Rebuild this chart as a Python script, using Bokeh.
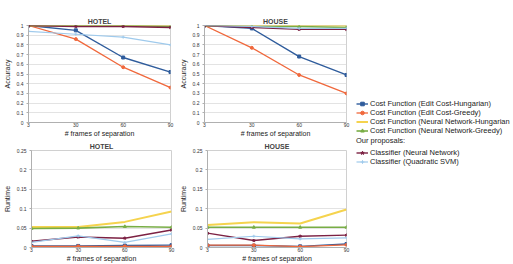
from bokeh.plotting import figure
from bokeh.models import Range1d, FixedTicker, Legend, LegendItem, ColumnDataSource
from bokeh.layouts import row, column
from bokeh.embed import file_html
from bokeh.resources import INLINE

# ---------------- data ----------------
frames = ["3", "30", "60", "90"]

series_names = [
    "Cost Function (Edit Cost-Hungarian)",
    "Cost Function (Edit Cost-Greedy)",
    "Cost Function (Neural Network-Hungarian",
    "Cost Function (Neural Network-Greedy)",
    "Classifier (Neural Network)",
    "Classifier (Quadratic SVM)",
]

# Accuracy - HOTEL
acc_hotel_edit_hung = [1.00, 0.95, 0.67, 0.52]
acc_hotel_edit_greedy = [1.00, 0.86, 0.57, 0.36]
acc_hotel_nn_hung = [1.00, 1.00, 1.00, 1.00]
acc_hotel_nn_greedy = [1.00, 1.00, 1.00, 0.99]
acc_hotel_cls_nn = [1.00, 0.99, 0.99, 0.98]
acc_hotel_cls_svm = [0.94, 0.91, 0.88, 0.80]

# Accuracy - HOUSE
acc_house_edit_hung = [1.00, 0.97, 0.68, 0.49]
acc_house_edit_greedy = [1.00, 0.77, 0.49, 0.30]
acc_house_nn_hung = [1.00, 1.00, 1.00, 1.00]
acc_house_nn_greedy = [1.00, 0.99, 0.99, 0.98]
acc_house_cls_nn = [1.00, 0.98, 0.96, 0.96]
acc_house_cls_svm = [1.00, 0.99, 0.97, 0.97]

# Runtime - HOTEL
rt_hotel_edit_hung = [0.004, 0.004, 0.005, 0.006]
rt_hotel_edit_greedy = [0.003, 0.003, 0.003, 0.003]
rt_hotel_nn_hung = [0.053, 0.053, 0.066, 0.093]
rt_hotel_nn_greedy = [0.049, 0.050, 0.054, 0.052]
rt_hotel_cls_nn = [0.016, 0.027, 0.024, 0.045]
rt_hotel_cls_svm = [0.013, 0.030, 0.013, 0.035]

# Runtime - HOUSE
rt_house_edit_hung = [0.005, 0.005, 0.003, 0.009]
rt_house_edit_greedy = [0.006, 0.006, 0.002, 0.007]
rt_house_nn_hung = [0.058, 0.065, 0.062, 0.098]
rt_house_nn_greedy = [0.052, 0.052, 0.052, 0.052]
rt_house_cls_nn = [0.037, 0.018, 0.029, 0.032]
rt_house_cls_svm = [0.021, 0.029, 0.022, 0.025]

acc_ticks = [0, 0.1, 0.2, 0.3, 0.4, 0.5, 0.6, 0.7, 0.8, 0.9, 1]
acc_labels = ["0", "0.1", "0.2", "0.3", "0.4", "0.5", "0.6", "0.7", "0.8", "0.9", "1"]
rt_ticks = [0, 0.05, 0.1, 0.15, 0.2, 0.25]
rt_labels = ["0", "0.05", "0.1", "0.15", "0.2", "0.25"]

# ---------------- styles ----------------
colors = ["#2f5c9c", "#f0683c", "#f5d34e", "#78ad45", "#7c2143", "#9fcaec"]
markers = ["square", "circle", None, "triangle", "star", "cross"]
widths = [1.4, 1.3, 2.0, 1.6, 1.4, 1.2]
FONT = "Liberation Sans"


def make_panel(title, ylabel, series, ymax, ticks, labels, width, height,
               bl, br, bt, bb):
    p = figure(width=width, height=height, output_backend="svg",
               toolbar_location=None, x_range=Range1d(0, len(frames) - 1),
               y_range=Range1d(0, ymax), min_border_left=bl,
               min_border_right=br, min_border_top=bt, min_border_bottom=bb,
               title=title)
    p.title.align = "center"
    p.title.text_font = FONT
    p.title.text_font_size = "7px"
    p.title.text_font_style = "bold"
    p.title.standoff = 1
    p.title.offset = 0
    p.outline_line_color = "#d0d0d0"
    p.background_fill_color = "white"
    p.border_fill_color = "white"

    xs = list(range(len(frames)))
    p.xaxis.ticker = FixedTicker(ticks=xs)
    p.xaxis.major_label_overrides = {i: f for i, f in enumerate(frames)}
    p.yaxis.ticker = FixedTicker(ticks=ticks)
    p.yaxis.major_label_overrides = {t: l for t, l in zip(ticks, labels)}
    p.xaxis.axis_label = "# frames of separation"
    p.yaxis.axis_label = ylabel
    for ax in (p.xaxis[0], p.yaxis[0]):
        ax.axis_label_text_font = FONT
        ax.axis_label_text_font_size = "7px"
        ax.axis_label_text_font_style = "normal"
        ax.axis_label_text_color = "#222222"
        ax.major_label_text_font = FONT
        ax.major_label_text_font_size = "5px"
        ax.major_label_text_color = "#333333"
        ax.axis_line_color = "#b0b0b0"
        ax.major_tick_line_color = "#b0b0b0"
        ax.minor_tick_line_color = None
        ax.major_tick_in = 0
    p.xaxis.major_tick_out = 0
    p.yaxis.major_tick_out = 2
    p.xaxis.major_label_standoff = 0
    p.xaxis.axis_label_standoff = 0
    p.yaxis.major_label_standoff = 3
    p.yaxis.axis_label_standoff = 3
    p.xgrid.grid_line_color = None
    p.ygrid.grid_line_color = "#dcdcdc"
    p.ygrid.grid_line_width = 0.8

    for ys, c, m, w in zip(series, colors, markers, widths):
        p.line(xs, ys, line_color=c, line_width=w)
        if m is not None:
            p.scatter(xs, ys, marker=m, size=3, fill_color=c, line_color=c)
    return p


p1 = make_panel("HOTEL", "Accuracy",
                [acc_hotel_edit_hung, acc_hotel_edit_greedy, acc_hotel_nn_hung,
                 acc_hotel_nn_greedy, acc_hotel_cls_nn, acc_hotel_cls_svm],
                1, acc_ticks, acc_labels, 176, 139, 24, 6, 25, 16)
p2 = make_panel("HOUSE", "Accuracy",
                [acc_house_edit_hung, acc_house_edit_greedy, acc_house_nn_hung,
                 acc_house_nn_greedy, acc_house_cls_nn, acc_house_cls_svm],
                1, acc_ticks, acc_labels, 174, 139, 24, 4, 25, 16)
p3 = make_panel("HOTEL", "Runtime",
                [rt_hotel_edit_hung, rt_hotel_edit_greedy, rt_hotel_nn_hung,
                 rt_hotel_nn_greedy, rt_hotel_cls_nn, rt_hotel_cls_svm],
                0.25, rt_ticks, rt_labels, 176, 125, 26, 5, 11, 17)
p4 = make_panel("HOUSE", "Runtime",
                [rt_house_edit_hung, rt_house_edit_greedy, rt_house_nn_hung,
                 rt_house_nn_greedy, rt_house_cls_nn, rt_house_cls_svm],
                0.25, rt_ticks, rt_labels, 174, 125, 25, 4, 11, 17)

# ---------------- legend panel ----------------
lg = figure(width=163, height=264, output_backend="svg", toolbar_location=None,
            x_range=Range1d(0, 1), y_range=Range1d(0, 1), min_border=0)
lg.axis.visible = False
lg.grid.visible = False
lg.outline_line_color = None

items = []
for name, c, m, w in zip(series_names, colors, markers, widths):
    src = ColumnDataSource(data=dict(x=[-10, -9], y=[-10, -9]))
    rs = [lg.line("x", "y", source=src, line_color=c, line_width=w)]
    if m is not None:
        rs.append(lg.scatter("x", "y", source=src, marker=m, size=4,
                             fill_color=c, line_color=c))
    items.append(LegendItem(label=name, renderers=rs))


def style_legend(L):
    L.label_text_font = FONT
    L.label_text_font_size = "7.5px"
    L.label_text_color = "#222222"
    L.glyph_width = 12
    L.glyph_height = 9
    L.label_height = 9
    L.label_standoff = 2
    L.spacing = 0
    L.padding = 0
    L.margin = 0
    L.border_line_color = None
    L.background_fill_alpha = 0
    L.title_text_font = FONT
    L.title_text_font_size = "7.5px"
    L.title_text_font_style = "normal"
    L.title_text_color = "#222222"
    L.title_standoff = 3


leg1 = Legend(items=items[:4], location=(6, 129))
leg2 = Legend(items=items[4:], location=(6, 98), title="Our proposals:")
style_legend(leg1)
style_legend(leg2)
lg.add_layout(leg1)
lg.add_layout(leg2)

layout = row(column(row(p1, p2), row(p3, p4)), lg)

open("out.html", "w").write(file_html(layout, INLINE))
